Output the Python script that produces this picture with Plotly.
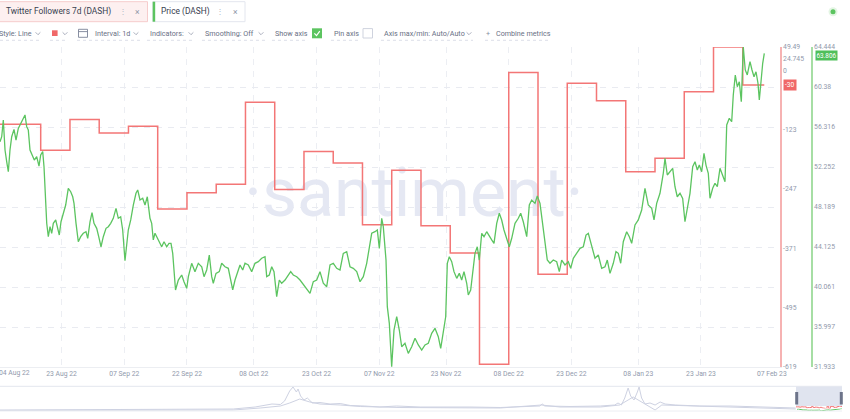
import plotly.graph_objects as go
import pandas as pd

# ----------------------------- data -----------------------------
# Twitter Followers 7d (DASH): weekly values (start date of each week)
twitter_week = ["2022-08-04", "2022-08-11", "2022-08-18", "2022-08-25", "2022-09-01", "2022-09-08",
                "2022-09-15", "2022-09-22", "2022-09-29", "2022-10-06", "2022-10-13", "2022-10-20",
                "2022-10-27", "2022-11-03", "2022-11-10", "2022-11-17", "2022-11-24", "2022-12-01",
                "2022-12-08", "2022-12-15", "2022-12-22", "2022-12-29", "2023-01-05", "2023-01-12",
                "2023-01-19", "2023-01-26", "2023-02-02"]
twitter_7d = [-112, -112, -166, -102, -130, -116,
              -289, -255, -237, -66, -248, -169,
              -193, -322, -208, -324, -381, -613,
              -4, -425, -26, -63, -211, -183,
              -44, 49.49, -30]
twitter_last_date = "2023-02-07 03:30"

# Price (DASH), USD; time as days after price_origin
price_origin = "2022-08-18"
price_day = [-9.74, -9.33, -8.95, -8.54, -8.14, -7.75, -7.35, -6.94, -6.39, -5.91, -5.36, -4.79, -4.31, -3.76,
             -3.35, -2.97, -2.56, -2.01, -1.53, -0.96, -0.41, 0.00, 0.48, 0.79, 1.10, 1.44, 1.82, 2.23, 2.63,
             3.02, 3.59, 3.97, 4.45, 4.86, 5.41, 5.98, 6.60, 7.18, 7.66, 7.97, 8.45, 9.00, 9.57, 10.19, 10.84,
             11.25, 11.80, 12.28, 12.75, 13.40, 13.88, 14.43, 14.98, 15.63, 16.18, 16.75, 17.37, 18.02, 18.57,
             19.14, 19.62, 20.17, 20.96, 21.54, 22.16, 22.80, 23.21, 23.76, 24.41, 24.96, 25.51, 26.15, 26.56,
             26.94, 27.35, 27.90, 28.38, 28.95, 29.51, 30.15, 30.70, 31.18, 31.59, 31.90, 32.26, 32.93, 33.74,
             34.29, 34.94, 35.33, 36.13, 36.92, 37.71, 38.53, 39.08, 39.72, 40.34, 40.92, 41.30, 41.95, 42.74,
             43.31, 44.10, 44.89, 45.47, 45.95, 46.50, 47.04, 47.69, 48.34, 48.89, 49.68, 50.49, 51.28, 52.07,
             52.88, 53.67, 54.08, 54.70, 55.28, 55.83, 56.47, 57.10, 57.67, 58.46, 59.01, 59.82, 60.44, 61.26,
             62.05, 63.24, 64.44, 65.23, 66.04, 66.83, 67.62, 68.44, 69.23, 70.02, 70.83, 71.62, 72.41, 73.22,
             74.01, 74.80, 75.62, 76.41, 77.20, 78.01, 78.63, 79.21, 79.99, 80.55, 81.03, 81.60, 81.98, 82.63,
             82.94, 83.42, 83.99, 84.54, 85.19, 85.81, 86.38, 87.17, 87.96, 88.78, 89.57, 90.36, 91.17, 91.96,
             92.75, 93.56, 94.35, 95.14, 95.72, 96.34, 96.91, 97.30, 97.77, 98.35, 98.90, 99.55, 100.17, 100.74,
             101.29, 101.94, 102.32, 102.89, 103.37, 103.92, 104.47, 104.95, 105.53, 106.08, 106.72, 107.35,
             107.92, 108.47, 109.12, 109.74, 110.31, 110.86, 111.51, 112.13, 112.71, 113.50, 114.29, 114.86,
             115.48, 116.30, 116.92, 117.49, 118.28, 118.83, 119.48, 120.13, 120.67, 121.22, 121.87, 122.66,
             123.47, 124.10, 124.67, 125.46, 126.25, 126.82, 127.45, 128.26, 129.05, 129.84, 130.49, 131.04,
             131.85, 132.64, 133.43, 134.24, 135.03, 135.58, 136.23, 137.02, 137.66, 138.21, 138.79, 139.41,
             140.22, 140.85, 141.42, 142.21, 143.00, 143.81, 144.60, 145.39, 146.21, 146.76, 147.40, 148.19,
             148.98, 149.39, 149.94, 150.59, 151.23, 151.78, 152.33, 152.98, 153.62, 154.17, 154.73, 155.37,
             156.02, 156.57, 157.12, 157.60, 158.17, 158.72, 159.20, 159.75, 160.16, 160.80, 161.35, 161.91,
             162.55, 163.20, 163.75, 164.16, 164.78, 165.35, 165.73, 166.21, 166.69, 167.17, 167.65, 168.12,
             168.60, 169.08, 169.73, 170.21, 170.69, 171.17, 171.64, 171.96, 172.36, 172.77, 173.15]
price_usd = [54.82, 55.33, 57.03, 53.98, 52.79, 51.77, 53.98, 55.33, 56.08, 54.99, 56.18, 56.69, 57.03, 57.54,
             56.35, 56.01, 53.98, 53.47, 52.96, 53.30, 52.35, 53.47, 53.81, 52.28, 48.90, 46.53, 45.17, 46.19, 45.52,
             46.53, 46.87, 46.19, 45.34, 46.69, 47.55, 48.39, 50.09, 49.74, 49.23, 48.56, 46.53, 44.66, 45.17, 45.52, 45.68,
             45.01, 46.69, 47.61, 46.53, 46.02, 45.17, 44.15, 45.17, 46.02, 46.19, 46.53, 47.04, 48.05, 47.04,
             47.20, 45.85, 42.73, 45.85, 46.87, 48.39, 49.58, 49.92, 48.90, 49.07, 48.39, 49.23, 47.04, 46.53,
             44.84, 45.52, 45.01, 44.66, 44.15, 44.66, 44.15, 44.50, 44.50, 43.48, 41.45, 39.76, 40.77, 41.28,
             40.60, 39.93, 41.11, 42.47, 41.62, 42.47, 42.12, 41.11, 41.79, 43.31, 41.11, 40.44, 41.45, 41.62,
             42.47, 42.12, 41.96, 40.77, 39.76, 40.77, 41.45, 42.30, 41.79, 42.47, 42.30, 41.62, 42.47, 42.63,
             42.98, 43.14, 41.11, 41.28, 42.12, 41.62, 39.08, 40.77, 40.44, 40.77, 41.11, 41.62, 41.28, 41.11,
             40.77, 40.09, 39.42, 40.60, 40.77, 41.62, 40.44, 40.09, 42.30, 42.47, 41.96, 41.79, 43.48, 43.65,
             42.12, 41.96, 41.62, 40.60, 41.11, 42.47, 44.15, 45.52, 45.68, 45.85, 43.99, 47.04, 46.19, 42.80,
             38.06, 36.37, 31.95, 35.69, 37.04, 35.69, 33.99, 34.34, 33.32, 33.99, 34.85, 34.17, 33.66, 34.17,
             34.34, 35.36, 35.86, 35.01, 33.83, 35.36, 37.04, 42.47, 43.14, 42.63, 41.62, 40.94, 41.45, 40.77,
             41.62, 40.44, 39.25, 39.76, 41.62, 43.48, 44.15, 42.80, 45.52, 45.17, 45.68, 45.17,
             44.84, 44.50, 46.53, 47.55, 46.87, 45.85, 45.01, 44.15, 45.01, 46.53, 47.04, 47.55,
             46.69, 45.17, 48.39, 48.90, 48.56, 49.31, 48.56, 46.53, 45.01, 42.80, 42.47, 42.80,
             42.63, 41.62, 42.80, 42.30, 42.63, 41.96, 42.98, 43.48, 43.99, 44.15, 45.34, 45.52,
             44.15, 42.98, 43.31, 41.96, 42.12, 42.80, 41.45, 42.47, 43.65, 43.48, 42.47, 44.66,
             45.68, 45.17, 44.50, 46.36, 46.87, 47.88, 50.09, 48.39, 48.05, 46.87, 48.56, 49.58,
             51.61, 53.14, 51.44, 51.77, 52.12, 50.25, 49.23, 49.58, 49.07, 46.69, 48.22, 49.58,
             52.28, 52.79, 51.95, 52.45, 51.77, 53.64, 52.45, 51.61, 49.07, 50.09, 50.60, 50.25,
             52.12, 51.27, 50.76, 56.52, 57.20, 56.85, 59.57, 61.60, 60.41, 60.92, 58.88, 64.44,
             62.11, 61.60, 62.95, 62.11, 61.42, 61.93, 60.76, 59.06, 61.09, 62.79, 63.806]

# axis ticks
x_tick_dates = ["2022-08-23", "2022-09-07", "2022-09-22", "2022-10-08", "2022-10-23", "2022-11-07",
                "2022-11-23", "2022-12-08", "2022-12-23", "2023-01-08", "2023-01-23"]
x_tick_text = ["23 Aug 22", "07 Sep 22", "22 Sep 22", "08 Oct 22", "23 Oct 22", "07 Nov 22",
               "23 Nov 22", "08 Dec 22", "23 Dec 22", "08 Jan 23", "23 Jan 23"]
x_edge_text = ["04 Aug 22", "07 Feb 23"]
twitter_ticks = [-619, -495, -371, -247, -123, 0, 24.745, 49.49]
twitter_tick_text = ["-619", "-495", "-371", "-247", "-123", "0", "24.745", "49.49"]
price_ticks = [31.933, 35.997, 40.061, 44.125, 48.189, 52.252, 56.316, 60.38, 64.444]
price_tick_text = ["31.933", "35.997", "40.061", "44.125", "48.189", "52.252", "56.316", "60.38", "64.444"]

# navigator overview (fraction of full history, relative height)
nav_a_t = [0, 0.119, 0.277, 0.303, 0.315, 0.323, 0.333, 0.338, 0.344, 0.348, 0.352, 0.354, 0.357, 0.361,
           0.365, 0.371, 0.380, 0.392, 0.404, 0.416, 0.433, 0.451, 0.471, 0.499, 0.558, 0.594, 0.641, 0.644,
           0.647, 0.677, 0.713, 0.730, 0.734, 0.738, 0.742, 0.746, 0.749, 0.753, 0.757, 0.759, 0.762, 0.766,
           0.772, 0.778, 0.784, 0.790, 0.802, 0.831, 0.867, 0.903, 0.945]
nav_a_v = [0.04, 0.05, 0.08, 0.16, 0.22, 0.28, 0.26, 0.40, 0.80, 0.96, 0.76, 0.88, 0.60, 0.44,
           0.52, 0.32, 0.34, 0.28, 0.30, 0.22, 0.20, 0.16, 0.20, 0.16, 0.16, 0.14, 0.20, 0.28,
           0.20, 0.18, 0.20, 0.24, 0.32, 0.24, 0.52, 0.92, 0.60, 0.44, 0.76, 0.96, 0.52, 0.28,
           0.32, 0.24, 0.36, 0.28, 0.24, 0.20, 0.20, 0.16, 0.12]
nav_b_t = [0, 0.277, 0.309, 0.333, 0.344, 0.356, 0.368, 0.380, 0.404, 0.428, 0.475, 0.534, 0.594, 0.643,
           0.665, 0.713, 0.736, 0.746, 0.752, 0.760, 0.770, 0.778, 0.786, 0.808, 0.855, 0.903, 0.945]
nav_b_v = [0.02, 0.04, 0.12, 0.20, 0.32, 0.48, 0.36, 0.28, 0.24, 0.18, 0.14, 0.12, 0.12, 0.24,
           0.16, 0.16, 0.24, 0.44, 0.56, 0.40, 0.20, 0.04, 0.24, 0.22, 0.18, 0.14, 0.08]

# UI texts
pill_labels = ["Twitter Followers 7d (DASH)", "Price (DASH)"]
control_labels = ["Style: Line", "Interval: 1d", "Indicators:", "Smoothing: Off", "Show axis",
                  "Pin axis", "Axis max/min: Auto/Auto", "Combine metrics"]
watermark = "·santiment·"

# ----------------------------- layout helpers -----------------------------
W, H = 850, 419
ML, MR, MT, MB = 0, 8, 47, 8
PW, PH = W - ML - MR, H - MT - MB


def px(x):
    return (x - ML) / PW


def py(y):
    return (H - MB - y) / PH


RED = "#f37676"
GREEN = "#5cc460"
UI_FONT = "Roboto, Arial, sans-serif"
AX_FONT = dict(family=UI_FONT, size=6.8, color="#9199ac")

price_x = pd.Timestamp(price_origin) + pd.to_timedelta(price_day, unit="D")
tw_x = list(pd.to_datetime(twitter_week)) + [pd.Timestamp(twitter_last_date)]
tw_y = twitter_7d + [twitter_7d[-1]]

fig = go.Figure()

# watermark (under the lines, in the base subplot)
fig.add_trace(go.Scatter(x=[pd.Timestamp("2022-11-15 07:00")], y=[-268], mode="text", text=[watermark],
                         textfont=dict(family=UI_FONT, size=68, color="#e5e8f3"), textposition="middle center",
                         hoverinfo="skip", showlegend=False, cliponaxis=False, xaxis="x", yaxis="y"))
fig.add_trace(go.Scatter(x=tw_x, y=tw_y, mode="lines", line=dict(color=RED, width=1.5, shape="hv"),
                         hoverinfo="skip", showlegend=False, xaxis="x", yaxis="y"))
fig.add_trace(go.Scatter(x=price_x, y=price_usd, mode="lines", line=dict(color=GREEN, width=1.3),
                         hoverinfo="skip", showlegend=False, xaxis="x", yaxis="y2"))

# navigator
for t, v in ((nav_a_t, nav_a_v), (nav_b_t, nav_b_v)):
    fig.add_trace(go.Scatter(x=t, y=v, mode="lines", line=dict(color="#ced2e2", width=1),
                             hoverinfo="skip", showlegend=False, xaxis="x2", yaxis="y3"))
fig.add_trace(go.Scatter(x=tw_x, y=tw_y, mode="lines", line=dict(color=RED, width=1, shape="hv"),
                         hoverinfo="skip", showlegend=False, xaxis="x3", yaxis="y4"))
fig.add_trace(go.Scatter(x=price_x, y=price_usd, mode="lines", line=dict(color=GREEN, width=1),
                         hoverinfo="skip", showlegend=False, xaxis="x3", yaxis="y5"))

eps = 1e-6
fig.update_layout(
    width=W, height=H, margin=dict(l=ML, r=MR, t=MT, b=MB, autoexpand=False),
    paper_bgcolor="white", plot_bgcolor="white", showlegend=False,
    xaxis=dict(domain=[0, px(780)], anchor="y", type="date",
               range=["2022-08-08 06:14", "2023-02-10 21:50"],
               tickmode="array", tickvals=x_tick_dates, ticktext=x_tick_text, tickfont=AX_FONT,
               ticks="", showgrid=True, gridcolor="#eceef3", griddash="6px,6px", gridwidth=1,
               showline=True, linecolor="#eceef2", linewidth=1, zeroline=False, fixedrange=True),
    yaxis=dict(domain=[py(367), 1], anchor="x", side="right",
               range=[twitter_ticks[0] - eps, twitter_ticks[-1] + eps],
               tickmode="array", tickvals=twitter_ticks, ticktext=twitter_tick_text, tickfont=AX_FONT,
               ticks="", showgrid=False, zeroline=False, showline=True, linecolor="#f6b2b2", linewidth=1.5),
    yaxis2=dict(overlaying="y", anchor="free", position=px(812), side="right",
                range=[price_ticks[0] - eps, price_ticks[-1] + eps],
                tickmode="array", tickvals=price_ticks, ticktext=price_tick_text, tickfont=AX_FONT,
                ticks="", showgrid=True, gridcolor="#e9ebf1", griddash="6px,6px", gridwidth=1,
                zeroline=False, showline=True, linecolor="#a6dea4", linewidth=1.5),
    xaxis2=dict(domain=[0, 1], anchor="y3", range=[0, 1], visible=False, fixedrange=True),
    yaxis3=dict(domain=[0, py(386)], anchor="x2", range=[0, 1], visible=False, fixedrange=True),
    xaxis3=dict(domain=[px(796), 1], anchor="y4", type="date",
                range=["2022-08-04", "2023-02-07 03:30"], visible=False),
    yaxis4=dict(domain=[py(409.5), py(406)], anchor="x3", range=[-619, 49.49], visible=False),
    yaxis5=dict(domain=[0, py(408.5)], anchor="x3", range=[31.933, 64.444], visible=False),
)

shapes = []
ann = []


def text(x, y, s, size=7.2, color="#697084", anchor="left", **kw):
    ann.append(dict(x=px(x), y=py(y), xref="paper", yref="paper", text=s, showarrow=False,
                    xanchor=anchor, yanchor="middle",
                    font=dict(family=UI_FONT, size=size, color=color), **kw))


def rect(x0, y0, x1, y1, fill=None, line=None, lw=1, layer="above"):
    shapes.append(dict(type="rect", xref="paper", yref="paper", x0=px(x0), x1=px(x1), y0=py(y1), y1=py(y0),
                       fillcolor=fill or "rgba(0,0,0,0)", line=dict(color=line or "rgba(0,0,0,0)", width=lw if line else 0),
                       layer=layer))


def path(points, color, width=1, dash=None):
    d = "M " + " L ".join(f"{px(a):.5f},{py(b):.5f}" for a, b in points)
    shapes.append(dict(type="path", xref="paper", yref="paper", path=d,
                       line=dict(color=color, width=width, dash=dash)))


# ---- top row pills
rect(-5, 1.7, 147.5, 21.7, fill="#fdf0f0", line="#f6cccc")
text(4, 12, pill_labels[0], size=8.4, color="#37404f")
text(122.7, 12, "⋮", size=8, color="#b3b8c6", anchor="center")
text(137, 12, "×", size=8.5, color="#8e95a7", anchor="center")
rect(152.7, 1.7, 245, 21.7, fill="white", line="#e3e6ee")
rect(152.7, 1.7, 155.2, 21.7, fill=GREEN)
text(159, 12, pill_labels[1], size=8.4, color="#37404f")
text(220, 12, "⋮", size=8, color="#b3b8c6", anchor="center")
text(235, 12, "×", size=8.5, color="#8e95a7", anchor="center")

# ---- second row controls
ROW = 33.3
for s, x in zip(control_labels, [-3, 93, 148, 203, 273, 332, 382, 494]):
    text(x, ROW, s)
text(487.7, ROW, "+", anchor="center", color="#8a90a2")
for cx in [38, 65, 136, 191, 261, 469]:
    path([(cx - 2.4, ROW - 1.0), (cx, ROW + 1.4), (cx + 2.4, ROW - 1.0)], "#a0a6b6", 0.9)
rect(52, 30.3, 57.6, 36, fill="#f06868")
rect(78.5, 29.3, 87.5, 37.3, line="#7c8397", lw=0.9)
path([(78.5, 31.6), (87.5, 31.6)], "#7c8397", 0.9)
rect(312, 28.3, 322, 38.3, fill=GREEN)
path([(314.4, 33.4), (316.5, 35.6), (319.8, 31.2)], "white", 1.2)
rect(363, 28.6, 372.5, 38, fill="white", line="#cfd3de")
for a, b in [(0, 42), (50, 68), (77, 140), (147, 195), (202, 265), (272, 308), (331, 358), (381, 473), (485, 551)]:
    path([(a, 40.3), (b, 40.3)], "#d3d7e2", 0.8, dash="dot")

# live dot
shapes.append(dict(type="circle", xref="paper", yref="paper", x0=px(828.5), x1=px(837.5), y0=py(16.2), y1=py(7.2),
                   fillcolor="#e4f5e4", line=dict(width=0)))
shapes.append(dict(type="circle", xref="paper", yref="paper", x0=px(830.5), x1=px(835.5), y0=py(14.2), y1=py(9.2),
                   fillcolor=GREEN, line=dict(width=0)))

# ---- x edge labels
text(14, 373.3, x_edge_text[0], size=6.8, color="#9199ac", anchor="center")
text(772, 374, x_edge_text[1], size=6.8, color="#9199ac", anchor="center")

# ---- current value badges
ann.append(dict(x=px(782.5), xref="paper", y=twitter_7d[-1], yref="y", text=f"{twitter_7d[-1]}",
                showarrow=False, xanchor="left", yanchor="middle", bgcolor="#f06868", borderpad=1,
                font=dict(family=UI_FONT, size=6.6, color="white")))
ann.append(dict(x=px(814.5), xref="paper", y=price_usd[-1], yref="y2", text=f"{price_usd[-1]}",
                showarrow=False, xanchor="left", yanchor="top", yshift=3.5, bgcolor="#4fbf5a", borderpad=0.5,
                font=dict(family=UI_FONT, size=6.4, color="white")))

# ---- navigator frame and selection
path([(0, 386.3), (842, 386.3)], "#e3e6ee", 1)
path([(0, 411), (842, 411)], "#eceef3", 1)
rect(796, 386.5, 842, 411, fill="rgba(214,219,234,0.75)", layer="below")
rect(795.2, 392, 798.2, 404.5, fill="#6d748a")
rect(839.8, 392, 842.8, 404.5, fill="#6d748a")

fig.update_layout(shapes=shapes, annotations=ann)
fig.write_html("out.html", config={"displayModeBar": False},
               post_script="document.body.style.margin='0';document.body.style.padding='0';")
